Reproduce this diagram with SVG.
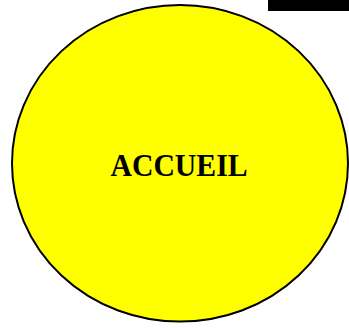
<svg xmlns="http://www.w3.org/2000/svg" width="349" height="328" viewBox="0 0 349 328">
<style>
.node{fill:#ffff00;stroke:#000;stroke-width:2}
.label{font-family:"Liberation Serif","Times New Roman",serif;font-weight:bold;font-size:32px;fill:#000}
</style>
<rect width="349" height="328" fill="#fff"/>
<g id="bar"><rect x="268" y="0" width="81" height="11" fill="#000"/></g>
<g id="connectors"></g>
<g id="accueil">
<ellipse class="node" cx="180" cy="163.3" rx="168" ry="158.3"/>
<text class="label" x="179" y="176" text-anchor="middle" textLength="137" lengthAdjust="spacingAndGlyphs">ACCUEIL</text>
</g>
</svg>
